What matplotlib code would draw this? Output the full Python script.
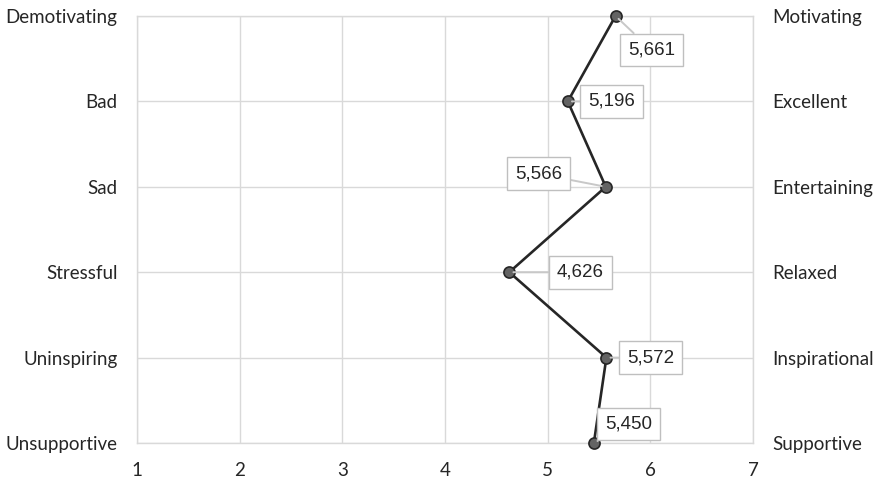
import matplotlib.pyplot as plt

left_labels = ['Demotivating', 'Bad', 'Sad', 'Stressful', 'Uninspiring', 'Unsupportive']
right_labels = ['Motivating', 'Excellent', 'Entertaining', 'Relaxed', 'Inspirational', 'Supportive']
scores = [5.661, 5.196, 5.566, 4.626, 5.572, 5.450]
x_ticks = [1, 2, 3, 4, 5, 6, 7]

# where each data label sits relative to its point (pixels)
label_offsets = [(36, -34), (44, 0), (-67, 13), (71, 0), (44, 0), (35, 19)]

side_font = ['Lato', 'DejaVu Sans']
grid_col = '#d9d9d9'

fig = plt.figure(figsize=(8.84, 4.80), dpi=100)
ax = fig.add_axes([137/884, 1 - 443/480, (753 - 137)/884, (443 - 16)/480])

ypos = list(range(len(scores)))
ax.plot(scores, ypos, color='#262626', lw=1.9, marker='o', ms=8,
        mfc='#636363', mec='#262626', mew=1.2, zorder=5, clip_on=False)

for x, y, off in zip(scores, ypos, label_offsets):
    txt = f'{x:.3f}'.replace('.', ',')
    ax.annotate(txt, xy=(x, y), xytext=off, textcoords='offset pixels',
                ha='center', va='center', fontsize=13.5, family='Liberation Sans',
                color='#262626', zorder=6,
                bbox=dict(boxstyle='square,pad=0.42', fc='white', ec='#bfbfbf', lw=1),
                arrowprops=dict(arrowstyle='-', color='#c8c8c8', lw=1.4,
                                shrinkA=0, shrinkB=3))

ax.set_xlim(1, 7)
ax.set_ylim(len(scores) - 1, 0)
ax.set_xticks(x_ticks)
ax.set_xticklabels([str(t) for t in x_ticks], fontsize=13.5, family=side_font, color='#262626')
ax.set_yticks(ypos)
ax.set_yticklabels(left_labels, fontsize=13.5, family=side_font, color='#262626')
ax.tick_params(axis='x', length=0, pad=14)
ax.tick_params(axis='y', length=0, pad=14)

ax.grid(True, color=grid_col, lw=1)
ax.set_axisbelow(True)
for s in ax.spines.values():
    s.set_color(grid_col)
    s.set_linewidth(1)

ax2 = ax.twinx()
ax2.set_ylim(len(scores) - 1, 0)
ax2.set_yticks(ypos)
ax2.set_yticklabels(right_labels, fontsize=13.5, family=side_font, color='#262626')
ax2.tick_params(length=0, pad=14)
for s in ax2.spines.values():
    s.set_visible(False)

fig.savefig('out.png', dpi=100)
